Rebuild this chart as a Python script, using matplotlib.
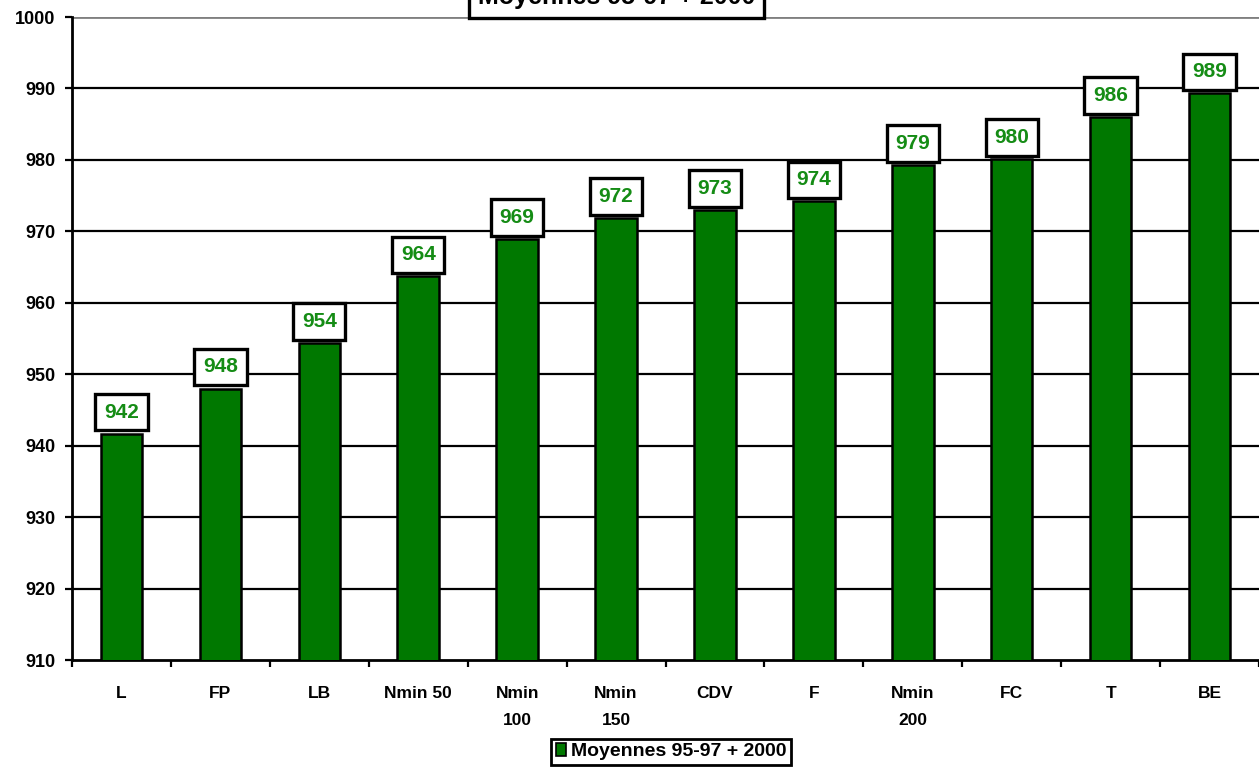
import numpy as np
import matplotlib.pyplot as plt
from matplotlib.patches import Patch

plt.rcParams['font.family'] = ['Liberation Sans', 'DejaVu Sans']

# data
categories = ["L", "FP", "LB", "Nmin 50", "Nmin\n100", "Nmin\n150", "CDV", "F",
              "Nmin\n200", "FC", "T", "BE"]
values = [941.7, 948.0, 954.4, 963.7, 968.9, 971.9, 973.0, 974.2, 979.3, 980.1, 986.0, 989.3]
series_name = "Moyennes 95-97 + 2000"
yticks = np.arange(910, 1001, 10)

bar_color = '#007800'
text_green = '#158c15'

fig = plt.figure(figsize=(12.59, 7.67), dpi=100)
ax = fig.add_axes([0.0572, 0.1395, 0.9428, 0.8383])

x = np.arange(len(categories))
ax.bar(x, values, width=0.42, color=bar_color, edgecolor='black', linewidth=1.8, zorder=3)

ax.set_ylim(910, 1000)
ax.set_xlim(-0.5, len(categories) - 0.5)
ax.set_yticks(yticks)
ax.set_yticklabels([str(t) for t in yticks], fontsize=13, fontweight='bold')
for t in yticks[1:-1]:
    ax.axhline(t, color='black', linewidth=1.6, zorder=1)
ax.axhline(1000, color='#808080', linewidth=2, zorder=1)

# x ticks between categories, labels centered under bars
ax.set_xticks(np.arange(len(categories) + 1) - 0.5)
ax.set_xticklabels([])
ax.set_xticks(x, minor=True)
ax.set_xticklabels(categories, minor=True, fontsize=12.5, fontweight='bold', linespacing=1.95,
                   va='top')
ax.tick_params(axis='x', which='minor', length=0, pad=19)
ax.tick_params(axis='x', which='major', length=5, width=1.6, direction='out')
ax.tick_params(axis='y', length=5, width=1.6, direction='out', pad=7)

for s in ['top', 'right']:
    ax.spines[s].set_visible(False)
ax.spines['left'].set_linewidth(2)
ax.spines['bottom'].set_linewidth(2)

# value labels
for xi, v in zip(x, values):
    ax.annotate(f"{v:.0f}", (xi, v), xytext=(0, 15.5), textcoords='offset points',
                ha='center', va='center', fontsize=15, fontweight='bold', color=text_green,
                zorder=5,
                bbox=dict(boxstyle='square,pad=0.42', facecolor='white', edgecolor='black',
                          linewidth=2.4))

# title box, cut at the top as in the original
fig.text(0.49, 1.004, series_name, ha='center', va='center', fontsize=18, fontweight='bold',
         bbox=dict(boxstyle='square,pad=0.35', facecolor='white', edgecolor='black',
                   linewidth=2.4))

# legend
leg = fig.legend(handles=[Patch(facecolor=bar_color, edgecolor='black', linewidth=1.2)],
                 labels=[series_name], loc='center', bbox_to_anchor=(0.533, 0.0196),
                 fancybox=False, framealpha=1, edgecolor='black', handlelength=0.55,
                 handleheight=0.6, handletextpad=0.25, borderpad=0.25,
                 prop={'size': 14, 'weight': 'bold'})
leg.get_frame().set_linewidth(2)

fig.savefig('out.png', dpi=100)
